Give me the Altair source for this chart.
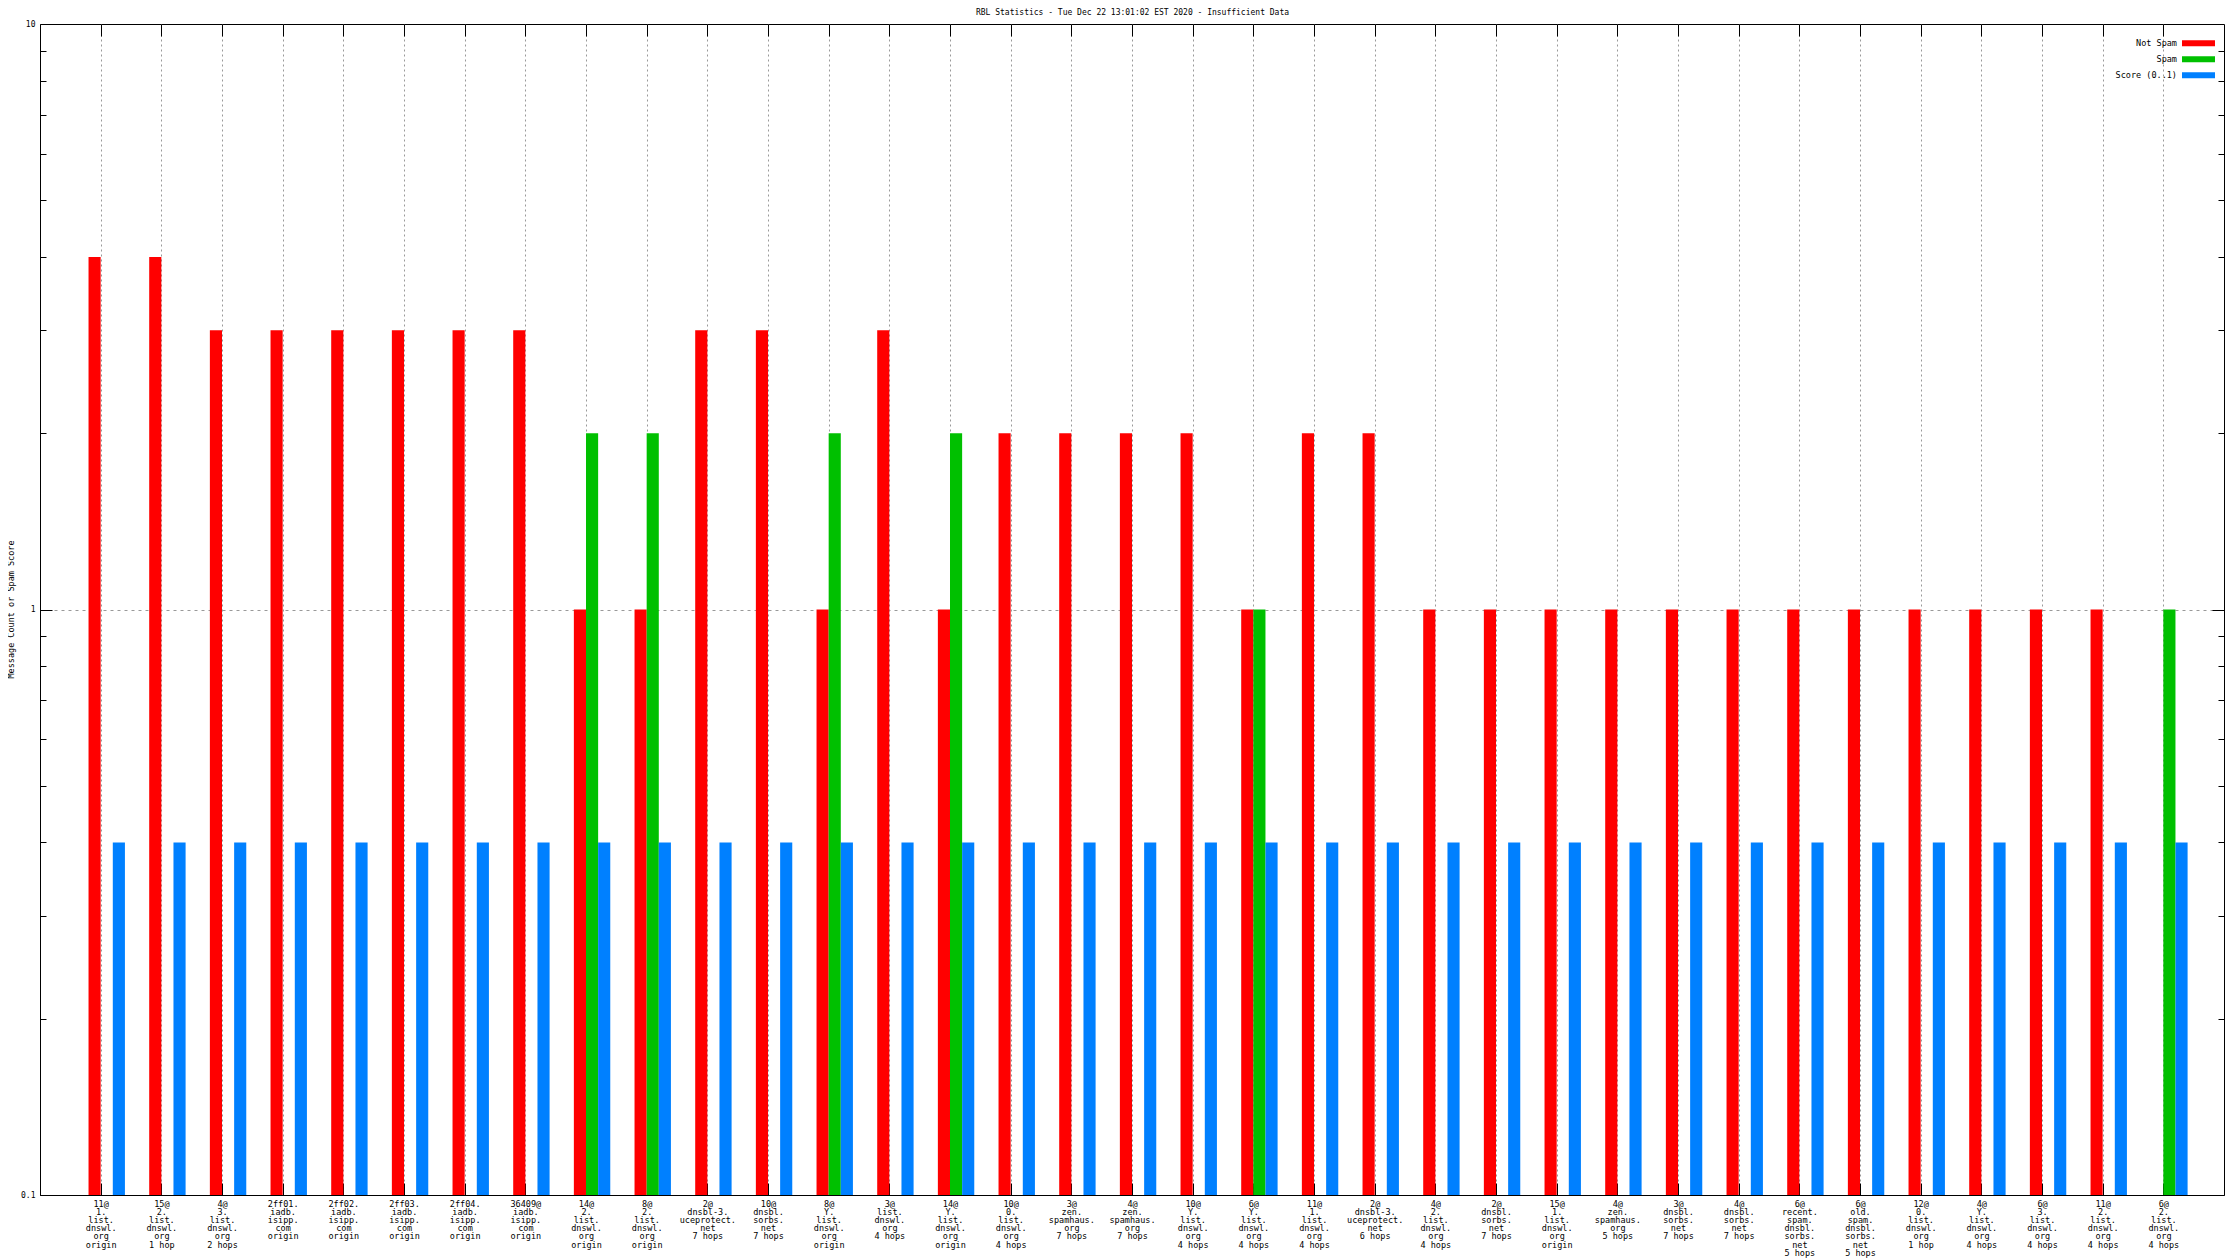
import json
import altair as alt
import pandas as pd

MONO = "DejaVu Sans Mono"

labels = [
    "11@|1.|list.|dnswl.|org|origin",
    "15@|2.|list.|dnswl.|org|1 hop",
    "4@|3.|list.|dnswl.|org|2 hops",
    "2ff01.|iadb.|isipp.|com|origin",
    "2ff02.|iadb.|isipp.|com|origin",
    "2ff03.|iadb.|isipp.|com|origin",
    "2ff04.|iadb.|isipp.|com|origin",
    "36409@|iadb.|isipp.|com|origin",
    "14@|2.|list.|dnswl.|org|origin",
    "8@|2.|list.|dnswl.|org|origin",
    "2@|dnsbl-3.|uceprotect.|net|7 hops",
    "10@|dnsbl.|sorbs.|net|7 hops",
    "8@|Y.|list.|dnswl.|org|origin",
    "3@|list.|dnswl.|org|4 hops",
    "14@|Y.|list.|dnswl.|org|origin",
    "10@|0.|list.|dnswl.|org|4 hops",
    "3@|zen.|spamhaus.|org|7 hops",
    "4@|zen.|spamhaus.|org|7 hops",
    "10@|Y.|list.|dnswl.|org|4 hops",
    "6@|Y.|list.|dnswl.|org|4 hops",
    "11@|1.|list.|dnswl.|org|4 hops",
    "2@|dnsbl-3.|uceprotect.|net|6 hops",
    "4@|2.|list.|dnswl.|org|4 hops",
    "2@|dnsbl.|sorbs.|net|7 hops",
    "15@|1.|list.|dnswl.|org|origin",
    "4@|zen.|spamhaus.|org|5 hops",
    "3@|dnsbl.|sorbs.|net|7 hops",
    "4@|dnsbl.|sorbs.|net|7 hops",
    "6@|recent.|spam.|dnsbl.|sorbs.|net|5 hops",
    "6@|old.|spam.|dnsbl.|sorbs.|net|5 hops",
    "12@|0.|list.|dnswl.|org|1 hop",
    "4@|Y.|list.|dnswl.|org|4 hops",
    "6@|3.|list.|dnswl.|org|4 hops",
    "11@|2.|list.|dnswl.|org|4 hops",
    "6@|2.|list.|dnswl.|org|4 hops",
]

not_spam = [4, 4, 3, 3, 3, 3, 3, 3, 1, 1, 3, 3, 1, 3, 1, 2, 2, 2, 2, 1,
            2, 2, 1, 1, 1, 1, 1, 1, 1, 1, 1, 1, 1, 1, 0]
spam = [0, 0, 0, 0, 0, 0, 0, 0, 2, 2, 0, 0, 2, 0, 2, 0, 0, 0, 0, 1,
        0, 0, 0, 0, 0, 0, 0, 0, 0, 0, 0, 0, 0, 0, 1]
score = [0.4, 0.4, 0.4, 0.4, 0.4, 0.4, 0.4, 0.4, 0.4, 0.4, 0.4, 0.4, 0.4, 0.4,
         0.4, 0.4, 0.4, 0.4, 0.4, 0.4, 0.4, 0.4, 0.4, 0.4, 0.4, 0.4, 0.4, 0.4,
         0.4, 0.4, 0.4, 0.4, 0.4, 0.4, 0.4]

series_names = ["Not Spam", "Spam", "Score (0..1)"]
series_colors = ["#ff0000", "#00c000", "#0080ff"]
y_major = [0.1, 1, 10]
y_minor = [0.2, 0.3, 0.4, 0.5, 0.6, 0.7, 0.8, 0.9, 2, 3, 4, 5, 6, 7, 8, 9]
y_floor = 0.1
chart_title = "RBL Statistics - Tue Dec 22 13:01:02 EST 2020 - Insufficient Data"

W, H = 2184, 1171

# bar slot within each cluster (in units of cluster spacing)
slot = {"Not Spam": (-0.2, 0.0), "Spam": (0.0, 0.2), "Score (0..1)": (0.2, 0.4)}

rows = []
for i in range(len(labels)):
    for name, vals in zip(series_names, [not_spam, spam, score]):
        rows.append({"idx": i, "series": name, "value": vals[i],
                     "lo": slot[name][0], "hi": slot[name][1]})
df = pd.DataFrame(rows)

n = len(labels)
xticks = list(range(n))
xscale = alt.Scale(domain=[-1, n], nice=False, zero=False)
yscale = alt.Scale(type="log", domain=[0.1, 10], nice=False)

label_expr = "split(" + json.dumps(labels) + "[datum.value], '|')"

base = (
    alt.Chart(df)
    .transform_filter("datum.value > 0")
    .transform_calculate(x0="datum.idx + datum.lo", x1="datum.idx + datum.hi")
)


def neg(v):
    return {"expr": str(-v)}


def tick_axis(orient, values, size, **kw):
    opts = dict(orient=orient, values=values, offset=neg(size), tickSize=size,
                ticks=True, labels=False, domain=False, grid=False,
                title=None, tickColor="black", tickWidth=1, zindex=0)
    opts.update(kw)
    return alt.Axis(**opts)


def ghost(xaxis, yaxis):
    return base.mark_bar(opacity=0).encode(
        x=alt.X("x0:Q", scale=xscale, axis=xaxis),
        x2="x1:Q",
        y=alt.Y("value:Q", scale=yscale, axis=yaxis),
        y2=alt.datum(y_floor),
    )


bars = base.mark_bar().encode(
    x=alt.X("x0:Q", scale=xscale, axis=alt.Axis(
        orient="bottom", values=xticks, labelExpr=label_expr,
        labelFont=MONO, labelFontSize=8.5, labelLineHeight=8.2,
        labelPadding=4, labelColor="black", labelFlush=False,
        labelOverlap=False, ticks=False, tickSize=0, grid=False,
        domain=True, domainColor="black", domainWidth=1, title=None,
        zindex=1)),
    x2="x1:Q",
    y=alt.Y("value:Q", scale=yscale, axis=alt.Axis(
        orient="left", values=y_major, format="~g", labelFont=MONO,
        labelFontSize=8, labelPadding=5, labelColor="black",
        labelFlush=False, labelOverlap=False, ticks=False, tickSize=0,
        grid=False, domain=True, domainColor="black", domainWidth=1,
        title="Message Count or Spam Score", titleFont=MONO,
        titleFontSize=8.5, titleFontWeight="normal", titleColor="black",
        titleAngle=270, titleX=-30, titleY=585, titleAlign="center",
        titleBaseline="middle", zindex=1)),
    y2=alt.datum(y_floor),
    color=alt.Color("series:N", sort=series_names,
                    scale=alt.Scale(domain=series_names, range=series_colors),
                    legend=alt.Legend(
                        title=None, orient="none", legendX=2147.5, legendY=8.3,
                        symbolType="M-1.5,-0.273H1.5V0.273H-1.5Z", symbolSize=484,
                        symbolStrokeWidth=0, symbolOpacity=1,
                        labelAlign="right", labelOffset=neg(32.5),
                        labelFont=MONO, labelFontSize=8.5, labelColor="black",
                        rowPadding=0, padding=0)),
)

grid_layer = ghost(
    alt.Axis(orient="bottom", values=xticks, grid=True, gridDash=[2, 3],
             gridColor="#999999", gridWidth=1, labels=False, ticks=False,
             domain=False, title=None, zindex=0),
    alt.Axis(orient="left", values=[1], grid=True, gridDash=[3, 4],
             gridColor="#999999", gridWidth=1, labels=False, ticks=False,
             domain=False, title=None, zindex=0),
)

ticks_bl = ghost(tick_axis("bottom", xticks, 12), tick_axis("left", [1], 12))
ticks_tr = ghost(
    tick_axis("top", xticks, 12, title=chart_title, titleFont=MONO,
              titleFontSize=8, titleFontWeight="normal", titleColor="black",
              titleX=W / 2, titleY=-24, titleAlign="center",
              titleBaseline="middle", titleAngle=0),
    tick_axis("right", [1], 12),
)
minor_l = ghost(None, tick_axis("left", y_minor, 6))
minor_r = ghost(None, tick_axis("right", y_minor, 6))

chart = (
    alt.layer(grid_layer, ticks_bl, ticks_tr, minor_l, minor_r, bars)
    .resolve_axis(x="independent", y="independent")
    .properties(
        width=W, height=H,
        autosize=alt.AutoSizeParams(type="none"),
        padding={"left": 32, "top": 16, "right": 8, "bottom": 64},
    )
    .configure_view(stroke="black", strokeWidth=1)
)

chart.save("out.html", embed_options={"renderer": "svg", "actions": False})
